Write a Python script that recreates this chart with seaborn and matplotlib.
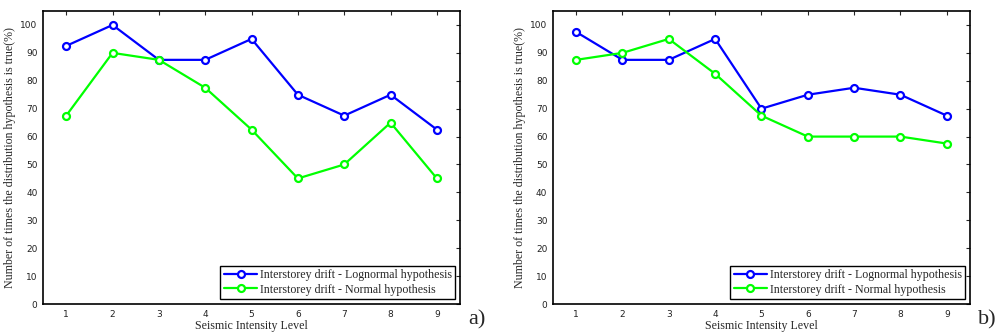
import numpy as np
import pandas as pd
import matplotlib
matplotlib.use("Agg")
import matplotlib.pyplot as plt
import seaborn as sns

levels = [1, 2, 3, 4, 5, 6, 7, 8, 9]
a_lognormal = [92.5, 100, 87.5, 87.5, 95, 75, 67.5, 75, 62.5]
a_normal = [67.5, 90, 87.5, 77.5, 62.5, 45, 50, 65, 45]
b_lognormal = [97.5, 87.5, 87.5, 95, 70, 75, 77.5, 75, 67.5]
b_normal = [87.5, 90, 95, 82.5, 67.5, 60, 60, 60, 57.5]
series_names = ["Interstorey drift - Lognormal hypothesis",
                "Interstorey drift - Normal hypothesis"]
panel_labels = ["a)", "b)"]
y_ticks = [0, 10, 20, 30, 40, 50, 60, 70, 80, 90, 100]

sns.set_style("white")
plt.rcParams['font.family'] = ['Liberation Serif', 'DejaVu Serif']

fig = plt.figure(figsize=(10.01, 3.36), dpi=100)
positions = [[0.043, 0.0952, 0.4166, 0.872], [0.5524, 0.0952, 0.4166, 0.872]]
panels = [(a_lognormal, a_normal), (b_lognormal, b_normal)]
palette = {series_names[0]: "#0000ff", series_names[1]: "#00ff00"}

for i, (pos, (ln, nm)) in enumerate(zip(positions, panels)):
    ax = fig.add_axes(pos)
    df = pd.DataFrame({
        "level": levels * 2,
        "value": ln + nm,
        "series": [series_names[0]] * len(levels) + [series_names[1]] * len(levels),
    })
    sns.lineplot(data=df, x="level", y="value", hue="series", palette=palette,
                 marker="o", markersize=5, markerfacecolor="white",
                 markeredgewidth=1.6, linewidth=1.6, ax=ax, legend=True)
    for line in ax.lines:
        line.set_markeredgecolor(line.get_color())
    ax.set_xlim(0.5, 9.5)
    ax.set_ylim(0, 105)
    ax.set_xticks(levels)
    ax.set_yticks(y_ticks)
    ax.tick_params(direction="in", top=True, right=True, length=3, width=0.8,
                   labelsize=6.5, pad=4, labelcolor="#222222")
    for lab in ax.get_xticklabels() + ax.get_yticklabels():
        lab.set_fontfamily("DejaVu Sans")
    for sp in ax.spines.values():
        sp.set_color("black")
        sp.set_linewidth(1.2)
    ax.set_xlabel("Seismic Intensity Level", fontsize=8.6, labelpad=1)
    ax.set_ylabel("Number of times the distribution hypothesis is true(%)", fontsize=8.6, labelpad=3)
    leg = ax.legend(loc="lower right", fontsize=8.6, frameon=True, fancybox=False,
                    edgecolor="black", framealpha=1, handlelength=2.8,
                    borderpad=0.3, labelspacing=0.2, handletextpad=0.2,
                    borderaxespad=0.4)
    leg.get_frame().set_linewidth(1.0)
    for h in leg.get_lines():
        h.set_markerfacecolor("white")
        h.set_markeredgecolor(h.get_color())
    fig.text(pos[0] + pos[2] + 0.008, 0.02, panel_labels[i], fontsize=16,
             ha="left", va="bottom")

fig.savefig("out.png", dpi=100)
